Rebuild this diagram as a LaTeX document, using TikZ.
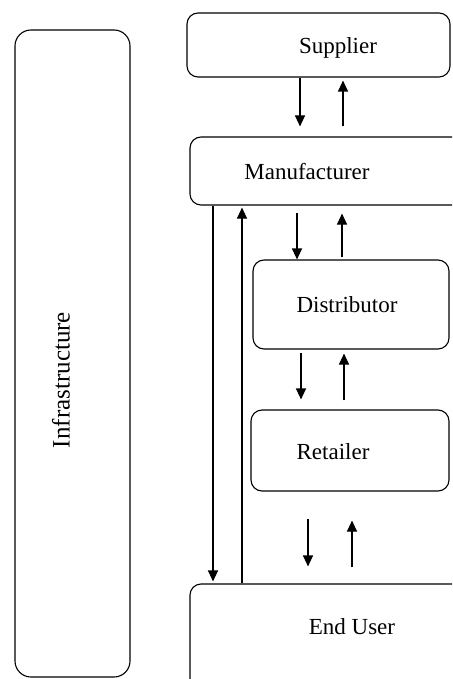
\documentclass[tikz,border=0pt]{standalone}
\usepackage{fontspec}
\setmainfont{Liberation Serif}
\usetikzlibrary{arrows.meta}

\begin{document}
\begin{tikzpicture}[
	x=1pt, y=-1pt,
	line width=1.1pt,
	box/.style={rectangle, rounded corners=11pt, draw=black, inner sep=0pt},
	every label/.style={font=\fontsize{23}{28}\selectfont},
	arr/.style={-{Triangle[length=11pt,width=10pt]}}
	]

	\useasboundingbox (0,0) rectangle (452,679);
	\clip (0,0) rectangle (452,679);

		\node (infra) [box, rounded corners=16pt, minimum width=115pt, minimum height=647pt, label={[xshift=-11.5pt, yshift=-26.5pt, rotate=90, font=\fontsize{25}{30}\selectfont]center:Infrastructure}] at (72.5,353.5) {};

		\node (supplier) [box, minimum width=263pt, minimum height=64pt, label={[xshift=19.5pt, yshift=-3pt]center:Supplier}] at (318.5,45) {};
		\node (manufacturer) [box, minimum width=280pt, minimum height=68pt, label={[xshift=-23pt, yshift=-1pt]center:Manufacturer}] at (330,171) {};
		\node (distributor) [box, minimum width=196pt, minimum height=89pt, label={[xshift=-4pt]center:Distributor}] at (351,304.5) {};
		\node (retailer) [box, minimum width=198pt, minimum height=81pt, label={[xshift=-17pt, yshift=-1.5pt]center:Retailer}] at (350,450.5) {};
		\node (enduser) [box, minimum width=280pt, minimum height=116pt, label={[xshift=22pt, yshift=15pt]center:End User}] at (330,642) {};

	\draw [arr, shorten >=10pt] (supplier.south -| 300,0) -- (manufacturer.north -| 300,0);
	\draw [arr, shorten <=10pt, shorten >=3pt] (manufacturer.north -| 343,0) -- (supplier.south -| 343,0);

	\draw [arr, shorten <=7pt] (manufacturer.south -| 297,0) -- (distributor.north -| 297,0);
	\draw [arr, shorten <=2pt, shorten >=8pt] (distributor.north -| 342,0) -- (manufacturer.south -| 342,0);

	\draw [arr, shorten <=3pt, shorten >=10pt] (distributor.south -| 301,0) -- (retailer.north -| 301,0);
	\draw [arr, shorten <=9pt, shorten >=4pt] (retailer.north -| 344,0) -- (distributor.south -| 344,0);

	\draw [arr, shorten <=27pt, shorten >=17pt] (retailer.south -| 308,0) -- (enduser.north -| 308,0);
	\draw [arr, shorten <=16pt, shorten >=29pt] (enduser.north -| 352,0) -- (retailer.south -| 352,0);

	\draw [arr, shorten >=2pt] (manufacturer.south -| 213,0) -- (enduser.north -| 213,0);
	\draw [arr, shorten >=2pt] (enduser.north -| 242,0) -- (manufacturer.south -| 242,0);

	\end{tikzpicture}
\end{document}
